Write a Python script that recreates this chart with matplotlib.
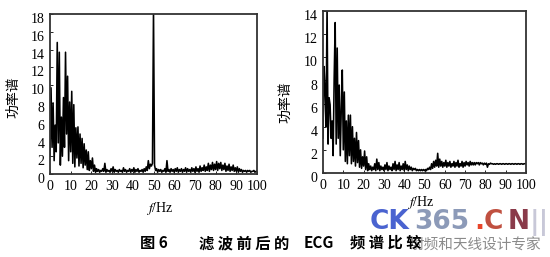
import numpy as np
import matplotlib
matplotlib.use('Agg')
import matplotlib.pyplot as plt
from matplotlib.transforms import ScaledTranslation

plt.rcParams['font.family'] = ['Liberation Serif', 'Noto Sans CJK SC']
plt.rcParams['mathtext.fontset'] = 'stix'

# frequency bins (Hz), 0.5 Hz spacing
freq = np.arange(0, 100.5, 0.5)

# power spectrum before filtering
power_before = [
    2.0, 9.7, 3.0, 8.0, 1.5, 5.5, 2.5, 14.8, 3.5, 13.7,
    1.0, 6.4, 2.0, 8.6, 3.0, 13.7, 4.5, 11.0, 1.5, 8.1,
    2.5, 9.3, 1.2, 7.8, 0.8, 5.2, 1.8, 5.3, 0.9, 4.5,
    1.2, 4.0, 0.7, 3.4, 1.0, 2.7, 0.5, 2.5, 0.4, 1.5,
    0.6, 1.8, 0.3, 1.0, 0.2, 0.6, 0.3, 0.5, 0.2, 0.4,
    0.3, 0.6, 0.3, 1.2, 0.2, 0.5, 0.3, 0.4, 0.2, 0.6,
    0.3, 0.8, 0.2, 0.5, 0.3, 0.4, 0.2, 0.5, 0.3, 0.4,
    0.2, 0.7, 0.3, 0.5, 0.2, 0.4, 0.3, 0.6, 0.2, 0.5,
    0.3, 0.7, 0.2, 0.5, 0.3, 0.6, 0.2, 0.4, 0.3, 0.5,
    0.2, 0.6, 0.3, 0.8, 0.4, 1.5, 0.6, 1.1, 0.9, 1.2,
    18.5, 1.0, 0.4, 0.6, 0.2, 0.5, 0.3, 0.5, 0.2, 0.4,
    0.3, 0.6, 0.2, 1.5, 0.3, 0.5, 0.2, 0.6, 0.3, 0.5,
    0.2, 0.6, 0.3, 0.7, 0.2, 0.5, 0.3, 0.6, 0.2, 0.5,
    0.3, 0.7, 0.2, 0.6, 0.3, 0.5, 0.2, 0.7, 0.3, 0.6,
    0.2, 0.8, 0.3, 0.6, 0.2, 0.9, 0.3, 0.7, 0.4, 1.0,
    0.3, 0.8, 0.4, 1.2, 0.3, 1.0, 0.5, 1.3, 0.4, 1.1,
    0.5, 1.4, 0.4, 1.2, 0.6, 1.3, 0.4, 1.0, 0.5, 1.2,
    0.3, 0.9, 0.4, 1.1, 0.3, 0.8, 0.4, 1.0, 0.3, 0.7,
    0.3, 0.8, 0.2, 0.6, 0.3, 0.5, 0.2, 0.4, 0.3, 0.4,
    0.2, 0.4, 0.3, 0.4, 0.2, 0.3, 0.3, 0.4, 0.2, 0.3,
    0.3,
]

# power spectrum after filtering (right panel)
power_after = [
    3.0, 9.2, 7.3, 4.0, 14.5, 2.5, 6.5, 5.9, 3.0, 4.5,
    1.5, 8.2, 13.0, 2.5, 10.8, 3.0, 7.6, 1.5, 5.5, 8.9,
    2.0, 7.0, 1.0, 4.5, 0.8, 5.0, 1.5, 5.0, 0.8, 4.0,
    1.0, 3.0, 0.6, 3.5, 0.9, 2.8, 0.5, 2.0, 0.4, 1.4,
    0.6, 1.9, 0.3, 1.4, 0.2, 0.8, 0.3, 0.6, 0.2, 0.5,
    0.3, 0.8, 0.2, 1.2, 0.3, 0.9, 0.2, 0.6, 0.3, 0.5,
    0.2, 0.7, 0.3, 0.9, 0.2, 0.6, 0.3, 0.5, 0.2, 0.8,
    0.3, 1.0, 0.2, 0.7, 0.3, 0.9, 0.2, 0.6, 0.3, 0.8,
    0.2, 1.0, 0.3, 0.7, 0.2, 0.6, 0.3, 0.5, 0.2, 0.4,
    0.3, 0.4, 0.2, 0.3, 0.2, 0.3, 0.2, 0.3, 0.2, 0.3,
    0.2, 0.3, 0.2, 0.4, 0.3, 0.5, 0.3, 0.8, 0.4, 1.0,
    0.5, 1.1, 0.6, 1.7, 0.5, 1.2, 0.6, 1.0, 0.5, 0.9,
    0.6, 1.1, 0.5, 0.9, 0.6, 1.0, 0.5, 0.8, 0.6, 1.0,
    0.5, 0.9, 0.6, 1.1, 0.5, 0.8, 0.6, 1.0, 0.5, 0.9,
    0.6, 1.0, 0.7, 0.9, 0.6, 1.0, 0.7, 0.9, 0.7, 0.9,
    0.7, 0.9, 0.8, 0.9, 0.7, 0.9, 0.8, 0.85, 0.7, 0.85,
    0.75, 0.85, 0.5, 0.8, 0.75, 0.85, 0.8, 0.8, 0.75, 0.8,
    0.75, 0.8, 0.8, 0.75, 0.8, 0.8, 0.75, 0.8, 0.8, 0.75,
    0.8, 0.8, 0.75, 0.8, 0.8, 0.75, 0.8, 0.8, 0.75, 0.8,
    0.8, 0.75, 0.8, 0.8, 0.75, 0.8, 0.8, 0.75, 0.8, 0.8,
    0.8,
]

xticks = np.arange(0, 101, 10)
yticks_before = np.arange(0, 19, 2)
yticks_after = np.arange(0, 15, 2)

cjk = ['Noto Sans CJK SC', 'DejaVu Sans']

fig = plt.figure(figsize=(5.5, 2.57), dpi=100)
ax1 = fig.add_axes([50 / 550, 83 / 257, 207 / 550, 160 / 257])
ax2 = fig.add_axes([323 / 550, 84 / 257, 203 / 550, 162 / 257])
ax2.set_zorder(3)  # keep its f/Hz label above the watermark

# tick labels in the scan sit a few pixels below their ticks
shift = ScaledTranslation(0, -3 / 72, fig.dpi_scale_trans)


def style(ax, power, yticks, ymax):
    ax.plot(freq, power, color='black', lw=1.15)
    ax.set_xlim(0, 100)
    ax.set_ylim(0, ymax)
    ax.set_xticks(xticks)
    ax.set_yticks(yticks)
    ax.tick_params(direction='in', length=2, width=0.6, labelsize=10, pad=4)
    for lab in ax.get_yticklabels():
        lab.set_transform(lab.get_transform() + shift)
    for s in ax.spines.values():
        s.set_linewidth(1.3)
        s.set_color('#333333')
    ax.set_xlabel('$f$/Hz', fontsize=10)
    ax.set_ylabel('功率谱', fontsize=10, family=cjk)


style(ax1, power_before, yticks_before, 18)
style(ax2, power_after, yticks_after, 14)
ax1.xaxis.set_label_coords(0.53, -0.16)
ax2.xaxis.set_label_coords(0.48, -0.13)
ax1.yaxis.set_label_coords(-0.145, 0.48)
ax2.yaxis.set_label_coords(-0.15, 0.44)

# watermark (drawn first so the caption sits on top)
wm_y = 1 - 222 / 257
for x, s, c in [(370, 'CK', '#4a63d0'), (414, '365', '#8c9ab8'),
                (474, '.', '#e8452a'), (484, 'C', '#c05040'),
                (508, 'N', '#8a3a4a'), (530, '||', '#c8c8d8')]:
    fig.text(x / 550, wm_y, s, family='DejaVu Sans', fontsize=19,
             fontweight='bold', color=c, ha='left', va='center', zorder=1)
fig.text(410 / 550, 1 - 246 / 257, '射频和天线设计专家', family=cjk,
         fontsize=10.5, color='#8a8a8a', ha='left', va='center', zorder=1)

# caption, letter-spaced like the printed figure
cap_y = 1 - 243 / 257
for x, s in [(140, '图 6'), (199, '滤 波 前 后 的'), (304, 'ECG'),
             (350, '频 谱 比 较')]:
    fig.text(x / 550, cap_y, s, family=cjk, fontsize=11, fontweight='bold',
             ha='left', va='center', zorder=2)

fig.savefig('out.png', dpi=100)
